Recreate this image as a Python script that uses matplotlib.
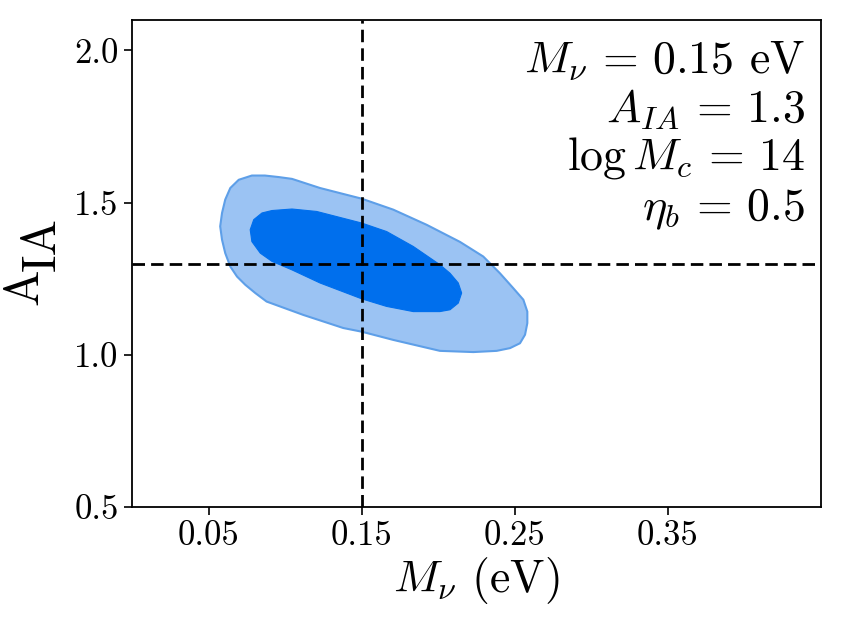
import matplotlib
matplotlib.use("Agg")
import matplotlib.pyplot as plt

plt.rcParams['mathtext.fontset'] = 'cm'
plt.rcParams['font.family'] = 'serif'
plt.rcParams['font.serif'] = ['cmr10']
plt.rcParams['axes.formatter.use_mathtext'] = True
plt.rcParams['axes.unicode_minus'] = False

# Fiducial values
m_nu_true = 0.15
a_ia_true = 1.3

# 95% (outer) contour outline
outer_mnu = [0.0576, 0.0588, 0.0609, 0.0642, 0.0697, 0.0783, 0.0868, 0.0958,
             0.1045, 0.1228, 0.1500, 0.1706, 0.1925, 0.2142, 0.2294, 0.2403,
             0.2490, 0.2556, 0.2582, 0.2582, 0.2567, 0.2534, 0.2469, 0.2382,
             0.2229, 0.2011, 0.1706, 0.1500, 0.1380, 0.1119, 0.0879, 0.0805,
             0.0740, 0.0686, 0.0642, 0.0609, 0.0588]
outer_aia = [1.422, 1.466, 1.510, 1.548, 1.575, 1.589, 1.589, 1.584,
             1.578, 1.548, 1.513, 1.477, 1.427, 1.371, 1.323, 1.268,
             1.219, 1.181, 1.142, 1.104, 1.066, 1.038, 1.022, 1.013,
             1.009, 1.013, 1.049, 1.076, 1.088, 1.131, 1.175, 1.203,
             1.230, 1.257, 1.290, 1.334, 1.378]

# 68% (inner) contour outline
inner_mnu = [0.0772, 0.0795, 0.0849, 0.0914, 0.1045, 0.1206, 0.1500, 0.1663,
             0.1837, 0.2011, 0.2077, 0.2131, 0.2153, 0.2131, 0.2077, 0.2011,
             0.1837, 0.1663, 0.1500, 0.1228, 0.1045, 0.0914, 0.0838, 0.0783]
inner_aia = [1.411, 1.444, 1.466, 1.474, 1.479, 1.471, 1.433, 1.405,
             1.356, 1.296, 1.268, 1.236, 1.203, 1.170, 1.148, 1.142,
             1.142, 1.159, 1.184, 1.236, 1.279, 1.307, 1.334, 1.372]

xticks = [0.05, 0.15, 0.25, 0.35]
yticks = [0.5, 1.0, 1.5, 2.0]

labels = [r'$M_\nu \,=\, 0.15$ eV', r'$A_{IA} \,=\, 1.3$',
          r'$\log M_c \,=\, 14$', r'$\eta_b \,=\, 0.5$']

W, H = 842, 625
fig = plt.figure(figsize=(W / 100, H / 100), dpi=100)
ax = fig.add_axes([132 / W, 1 - 507 / H, 689 / W, 487 / H])

ax.fill(outer_mnu, outer_aia, facecolor='#9BC3F3', edgecolor='#5E9FE8',
        linewidth=1.5, joinstyle='round', zorder=2)
ax.fill(inner_mnu, inner_aia, facecolor='#006FED', edgecolor='#006FED',
        linewidth=0.8, joinstyle='round', zorder=3)

ax.axvline(m_nu_true, color='k', lw=2, linestyle=(0, (4.5, 2.2)), zorder=4)
ax.axhline(a_ia_true, color='k', lw=2, linestyle=(0, (4.5, 2.2)), zorder=4)

ax.set_xlim(0.0, 0.45)
ax.set_ylim(0.5, 2.1)
ax.set_xticks(xticks)
ax.set_xticklabels(['%.2f' % t for t in xticks])
ax.set_yticks(yticks)
ax.set_yticklabels(['%.1f' % t for t in yticks])
ax.tick_params(labelsize=25, length=6, width=1.2, direction='out')
for s in ax.spines.values():
    s.set_linewidth(1.3)

ax.set_xlabel(r'$M_\nu$ (eV)', fontsize=33, labelpad=2)

# y label: "A" followed by a lowered "IA" of the same size
fig.text(37 / W, 1 - 305 / H, 'A', rotation=90, rotation_mode='anchor',
         ha='left', va='baseline', fontsize=35)
fig.text(55 / W, 1 - 271 / H, 'IA', rotation=90, rotation_mode='anchor',
         ha='left', va='baseline', fontsize=35)

ys = [0.891, 0.791, 0.692, 0.589]
for lab, yy in zip(labels, ys):
    ax.text(0.977, yy, lab, transform=ax.transAxes, ha='right', va='baseline',
            fontsize=33, zorder=5)

fig.savefig('out.png', dpi=100)
